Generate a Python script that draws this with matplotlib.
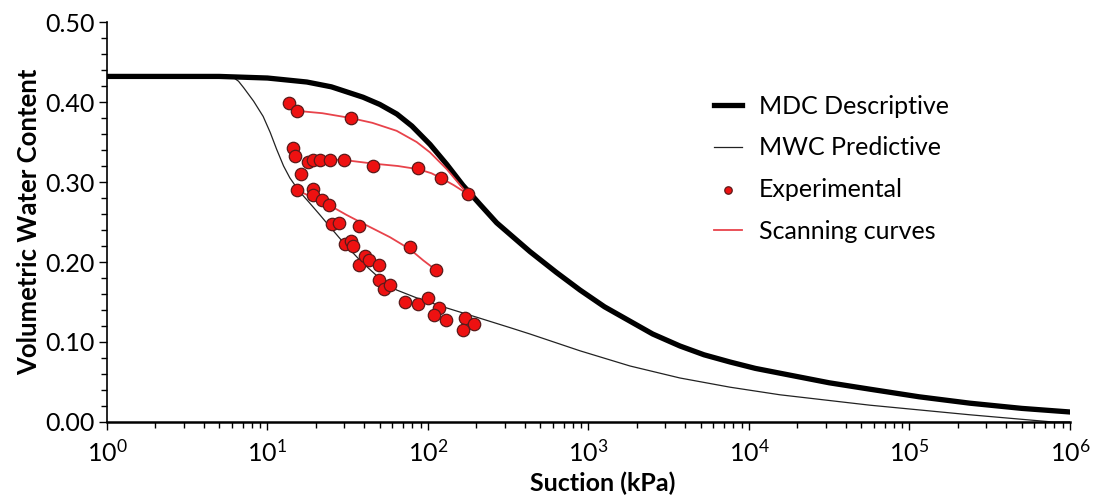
import matplotlib
matplotlib.use("Agg")
import matplotlib.pyplot as plt
from matplotlib.ticker import LogLocator, FixedLocator, MultipleLocator, FormatStrFormatter

plt.rcParams["font.family"] = ["Lato", "DejaVu Sans"]
plt.rcParams["mathtext.fontset"] = "custom"
plt.rcParams["mathtext.rm"] = "Lato"
plt.rcParams["mathtext.it"] = "Lato"

# main drying curve (descriptive)
mdc_suction = [1, 5, 10, 17.6, 25, 39.4, 50.1, 64, 79.4, 103, 131, 165, 211,
               268, 432, 631, 885, 1259, 1815, 2512, 3715, 5248, 7620, 10965,
               15600, 31623, 56700, 114815, 238000, 501187, 1e6]
mdc_theta = [0.432, 0.432, 0.430, 0.425, 0.419, 0.406, 0.397, 0.385, 0.370,
             0.347, 0.322, 0.296, 0.272, 0.249, 0.213, 0.187, 0.165, 0.144,
             0.126, 0.110, 0.095, 0.084, 0.075, 0.067, 0.061, 0.049, 0.041,
             0.0315, 0.0235, 0.017, 0.0125]

# main wetting curve (predictive)
mwc_suction = [1, 6.0, 6.6, 7.1, 8.2, 9.4, 10.4, 11.4, 12.6, 13.8, 15.2, 16.5,
               18.0, 21.2, 24.5, 30.4, 38.6, 50.4, 63.8, 85.4, 124, 201, 324,
               432, 885, 1815, 3715, 7620, 15600, 56700, 238000, 780000, 1e6]
mwc_theta = [0.432, 0.432, 0.426, 0.418, 0.401, 0.382, 0.362, 0.341, 0.320,
             0.305, 0.293, 0.284, 0.2755, 0.259, 0.244, 0.222, 0.200, 0.179,
             0.165, 0.155, 0.144, 0.131, 0.118, 0.110, 0.089, 0.070, 0.055,
             0.0435, 0.034, 0.021, 0.009, 0.0, 0.0]

# scanning curves
scan1_suction = [15.2, 22, 33, 45, 63.8, 85, 103, 131, 150, 176.6]
scan1_theta = [0.389, 0.386, 0.380, 0.374, 0.364, 0.350, 0.337, 0.316,
               0.302, 0.285]
scan2_suction = [17.5, 24.5, 30, 45.6, 65, 87.1, 105, 120.5, 145, 176.6]
scan2_theta = [0.326, 0.328, 0.3275, 0.323, 0.320, 0.316, 0.311, 0.305,
               0.296, 0.285]
scan3_suction = [15.2, 19, 24.3, 31, 39.5, 58, 77.2, 93.5, 112]
scan3_theta = [0.290, 0.281, 0.271, 0.259, 0.248, 0.231, 0.216, 0.202, 0.190]

# experimental points
exp_suction = [13.7, 15.2, 33.0, 14.5, 14.8, 18.0, 19.3, 21.2, 24.5, 30.0,
               45.6, 87.1, 120.5, 176.6, 16.1, 15.2, 19.1, 19.3, 22.0, 24.3,
               25.1, 28.0, 37.3, 77.2, 112, 30.4, 33.0, 34.3, 37.3, 40.5,
               43.1, 49.5, 49.8, 53.1, 58.0, 71.9, 86.1, 99.5, 117, 109,
               129, 171, 194, 166]
exp_theta = [0.399, 0.389, 0.380, 0.343, 0.332, 0.325, 0.3275, 0.3275,
             0.3275, 0.3275, 0.320, 0.317, 0.305, 0.285, 0.310, 0.290,
             0.291, 0.284, 0.277, 0.271, 0.2475, 0.249, 0.245, 0.219, 0.190,
             0.2225, 0.226, 0.220, 0.196, 0.2075, 0.2025, 0.196, 0.177,
             0.166, 0.171, 0.150, 0.147, 0.155, 0.142, 0.134, 0.1275, 0.130,
             0.122, 0.115]

x_ticks = [1, 10, 100, 1e3, 1e4, 1e5, 1e6]

fig = plt.figure(figsize=(11.05, 4.95), dpi=100)
ax = fig.add_axes([0.0968, 0.1475, 0.8715, 0.808])

red_line = "#e8434b"
ax.plot(mdc_suction, mdc_theta, color="black", linewidth=3.8,
        label="MDC Descriptive", zorder=3, solid_joinstyle="round")
ax.plot(mwc_suction, mwc_theta, color="#222222", linewidth=0.9,
        label="MWC Predictive", zorder=2)
ax.scatter(exp_suction, exp_theta, s=80, color="#ee1111", edgecolors="#5a1a1a",
           linewidths=0.9, label="Experimental", zorder=5)
ax.plot(scan1_suction, scan1_theta, color=red_line, linewidth=1.3,
        label="Scanning curves", zorder=4)
ax.plot(scan2_suction, scan2_theta, color=red_line, linewidth=1.3, zorder=4)
ax.plot(scan3_suction, scan3_theta, color=red_line, linewidth=1.3, zorder=4)

ax.set_xscale("log")
ax.set_xlim(1, 1e6)
ax.set_ylim(0, 0.5)
ax.xaxis.set_major_locator(FixedLocator(x_ticks))
ax.xaxis.set_minor_locator(LogLocator(base=10, subs=range(2, 10), numticks=100))
ax.yaxis.set_major_locator(MultipleLocator(0.1))
ax.yaxis.set_minor_locator(MultipleLocator(0.02))
ax.yaxis.set_major_formatter(FormatStrFormatter("%.2f"))

ax.spines["top"].set_visible(False)
ax.spines["right"].set_visible(False)
ax.spines["left"].set_linewidth(1.2)
ax.spines["bottom"].set_linewidth(1.8)
ax.tick_params(axis="both", which="major", length=6, width=1, labelsize=18,
               direction="out")
ax.tick_params(axis="both", which="minor", length=4, width=1, direction="out")
ax.tick_params(axis="x", which="major", pad=6)
ax.tick_params(axis="y", which="major", pad=3)

ax.set_xlabel("Suction (kPa)", fontsize=18, fontweight="bold", labelpad=-2)
ax.xaxis.set_label_coords(0.515, -0.125)
ax.set_ylabel("Volumetric Water Content", fontsize=18.5, fontweight="bold",
              labelpad=3)

leg = ax.legend(loc="upper left", bbox_to_anchor=(0.607, 0.875), frameon=False,
                fontsize=18, handlelength=1.1, handletextpad=0.7,
                labelspacing=0.75, markerscale=0.6)

fig.savefig("out.png", dpi=100)
